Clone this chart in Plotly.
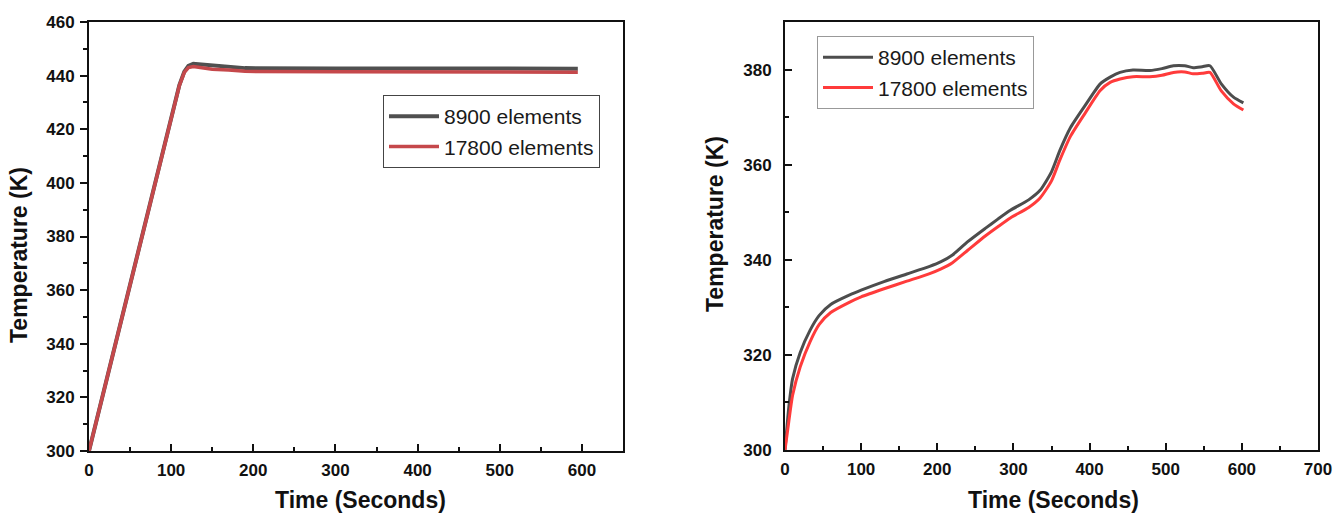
import plotly.graph_objects as go

W, H = 1338, 513

# ---------------- data ----------------
# Left panel
t_left_8900 = [0, 20, 40, 60, 80, 100, 110, 116, 121, 127, 135, 150, 170, 190, 300, 400, 500, 595]
T_left_8900 = [300, 325, 349.5, 374, 399, 424, 436.5, 441.5, 443.6, 444.4, 444.2, 443.6, 443.1, 442.8, 442.7, 442.6, 442.6, 442.6]
t_left_17800 = [0, 20, 40, 60, 80, 100, 110, 116, 121, 127, 135, 150, 170, 190, 300, 400, 500, 595]
T_left_17800 = [300, 325, 349.5, 374, 399, 424, 436.3, 441.2, 443.0, 443.4, 443.0, 442.4, 442.1, 441.6, 441.4, 441.3, 441.3, 441.3]

# Right panel
t_right_8900 = [0, 5, 10, 20, 33, 45, 60, 85, 100, 130, 160, 190, 205, 220, 240, 263, 280, 296, 320, 335,
                350, 361, 375, 394, 414, 427, 440, 457, 479, 495, 510, 525, 536, 548, 558, 573, 589, 602]
T_right_8900 = [300, 309, 315, 320.5, 325.2, 328.3, 330.6, 332.6, 333.6, 335.4, 337, 338.6, 339.6, 341, 343.8, 346.6, 348.6, 350.4, 352.6, 354.6,
                358.5, 363, 367.8, 372.4, 377, 378.4, 379.4, 379.9, 379.8, 380.2, 380.8, 380.8, 380.4, 380.6, 380.8, 377, 374.2, 373.0]
t_right_17800 = [0, 5, 10, 20, 33, 45, 60, 85, 100, 130, 160, 190, 205, 220, 240, 263, 280, 296, 320, 335,
                 350, 361, 375, 394, 414, 427, 440, 457, 479, 495, 510, 525, 536, 548, 558, 573, 589, 602]
T_right_17800 = [300, 306, 311.5, 317.5, 322.8, 326.4, 328.9, 331.1, 332.2, 333.9, 335.5, 337.1, 338.1, 339.4, 342, 345, 347, 348.8, 351, 353,
                 356.6, 361, 366, 370.8, 375.6, 377.3, 378.0, 378.5, 378.5, 378.8, 379.4, 379.5, 379.1, 379.2, 379.4, 375.5, 372.8, 371.5]

series_names = ["8900 elements", "17800 elements"]

# ---------------- figure ----------------
fig = go.Figure()

fig.add_trace(go.Scatter(x=t_left_8900, y=T_left_8900, mode="lines", name=series_names[0],
                         line=dict(color="#505050", width=4), xaxis="x", yaxis="y", legend="legend"))
fig.add_trace(go.Scatter(x=t_left_17800, y=T_left_17800, mode="lines", name=series_names[1],
                         line=dict(color="#c5484b", width=3.5), xaxis="x", yaxis="y", legend="legend"))
fig.add_trace(go.Scatter(x=t_right_8900, y=T_right_8900, mode="lines", name=series_names[0],
                         line=dict(color="#4d4d4d", width=3, shape="spline", smoothing=0.6),
                         xaxis="x2", yaxis="y2", legend="legend2"))
fig.add_trace(go.Scatter(x=t_right_17800, y=T_right_17800, mode="lines", name=series_names[1],
                         line=dict(color="#ff3b3b", width=3, shape="spline", smoothing=0.6),
                         xaxis="x2", yaxis="y2", legend="legend2"))

tickfont = dict(family="Liberation Sans, Arial, sans-serif", size=17, color="#111", weight="bold")

def xax(domain, rng, anchor):
    return dict(domain=domain, range=rng, anchor=anchor, dtick=100, tick0=0,
                ticks="inside", ticklen=7, tickwidth=1.5, tickcolor="#111",
                minor=dict(dtick=50, ticks="inside", ticklen=4, tickwidth=1.5, tickcolor="#111"),
                showline=True, mirror=True, linecolor="#111", linewidth=2,
                showgrid=False, zeroline=False, tickfont=tickfont, ticklabelstandoff=3,
                automargin=False, fixedrange=True)

def yax(domain, rng, anchor, ticks):
    return dict(domain=domain, range=rng, anchor=anchor, dtick=20, tick0=300,
                ticks=ticks, ticklen=7, tickwidth=1.5, tickcolor="#111",
                minor=dict(dtick=10, ticks=ticks, ticklen=4, tickwidth=1.5, tickcolor="#111"),
                showline=True, mirror=True, linecolor="#111", linewidth=2,
                showgrid=False, zeroline=False, tickfont=tickfont,
                ticklabelstandoff=(2 if ticks == "outside" else 8),
                automargin=False, fixedrange=True)

left_x = [89 / W, 623 / W]
right_x = [785 / W, 1318 / W]
left_y = [1 - 451 / H, 1 - 22 / H]
right_y = [1 - 450 / H, 1 - 22 / H]

legfont = dict(family="Liberation Sans, Arial, sans-serif", size=21, color="#1a1a1a")

fig.update_layout(
    width=W, height=H,
    margin=dict(l=0, r=0, t=0, b=0),
    paper_bgcolor="white", plot_bgcolor="white",
    xaxis=xax(left_x, [0, 650], "y"),
    yaxis=yax(left_y, [300, 460], "x", "outside"),
    xaxis2=xax(right_x, [0, 700], "y2"),
    yaxis2=yax(right_y, [300, 390], "x2", "inside"),
    legend=dict(x=383 / W, y=1 - 95 / H, xanchor="left", yanchor="top",
                bgcolor="rgba(255,255,255,0)", bordercolor="#444", borderwidth=1,
                font=legfont, itemwidth=50, tracegroupgap=0),
    legend2=dict(x=817 / W, y=1 - 36 / H, xanchor="left", yanchor="top",
                 bgcolor="rgba(255,255,255,0)", bordercolor="#999", borderwidth=1,
                 font=legfont, itemwidth=50, tracegroupgap=0),
    showlegend=True,
)

titlefont = dict(family="Liberation Sans, Arial, sans-serif", size=23, color="#111", weight="bold")
ytitlefont = dict(family="Liberation Sans, Arial, sans-serif", size=23, color="#111", weight="bold")

fig.add_annotation(text="Time (Seconds)", x=360 / W, y=1 - 500 / H, xref="paper", yref="paper",
                   showarrow=False, xanchor="center", yanchor="middle", font=titlefont)
fig.add_annotation(text="Time (Seconds)", x=1053 / W, y=1 - 500 / H, xref="paper", yref="paper",
                   showarrow=False, xanchor="center", yanchor="middle", font=titlefont)
fig.add_annotation(text="Temperature (K)", x=19 / W, y=1 - 255 / H, xref="paper", yref="paper",
                   showarrow=False, xanchor="center", yanchor="middle", textangle=-90, font=ytitlefont)
fig.add_annotation(text="Temperature (K)", x=715 / W, y=1 - 224 / H, xref="paper", yref="paper",
                   showarrow=False, xanchor="center", yanchor="middle", textangle=-90, font=ytitlefont)

fig.write_html("out.html", config={"displayModeBar": False},
               post_script="document.body.style.margin='0px';document.body.style.overflow='hidden';")
